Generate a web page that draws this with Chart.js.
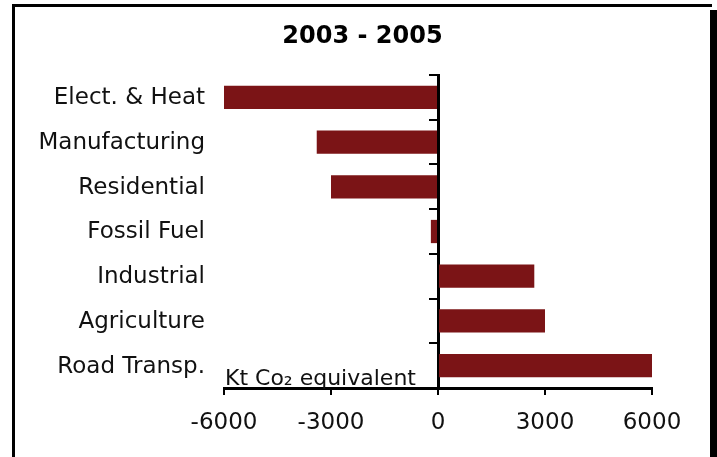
<!DOCTYPE html>
<html>
<head>
<meta charset="utf-8">
<script src="https://cdn.jsdelivr.net/npm/chart.js@4/dist/chart.umd.min.js"></script>
<style>
  html, body { margin: 0; padding: 0; background: #fff; }
  #wrap { position: relative; width: 717px; height: 457px; overflow: hidden; }
  canvas { position: absolute; left: 0; top: 0; }
  .frameA { position: absolute; left: 12px; top: 4px; width: 697px; height: 460px;
            border-top: 3px solid #000; border-left: 3px solid #000; pointer-events: none; }
  .frameB { position: absolute; left: 710px; top: 10px; width: 7px; height: 447px; background: #000; }
</style>
</head>
<body>
<div id="wrap">
  <canvas id="c" width="717" height="457"></canvas>
  <div class="frameA"></div>
  <div class="frameB"></div>
</div>
<script>
const title = '2003 - 2005';
const categories = ['Elect. & Heat', 'Manufacturing', 'Residential', 'Fossil Fuel', 'Industrial', 'Agriculture', 'Road Transp.'];
const values = [-6000, -3400, -3000, -200, 2700, 3000, 6000];
const xTicks = [-6000, -3000, 0, 3000, 6000];
const unitLabel = 'Kt Co\u2082 equivalent';

const FONT = 'DejaVu Sans';

const textPlugin = {
  id: 'extraText',
  afterDraw(chart) {
    const ctx = chart.ctx;
    const a = chart.chartArea;
    ctx.save();
    ctx.fillStyle = '#000';
    ctx.textAlign = 'center';
    ctx.textBaseline = 'alphabetic';
    ctx.font = 'bold 24px "' + FONT + '"';
    ctx.fillText(title, 362.5, 43);
    ctx.font = '22px "' + FONT + '"';
    ctx.fillStyle = '#111';
    ctx.textAlign = 'left';
    ctx.fillText(unitLabel, a.left + 1, a.bottom - 3);
    ctx.restore();
  }
};

new Chart(document.getElementById('c'), {
  type: 'bar',
  data: {
    labels: categories,
    datasets: [{
      data: values,
      backgroundColor: '#7B1416',
      borderWidth: 0,
      barPercentage: 0.52,
      categoryPercentage: 1.0,
      yAxisID: 'y'
    }]
  },
  plugins: [textPlugin],
  options: {
    indexAxis: 'y',
    responsive: false,
    animation: false,
    devicePixelRatio: 1,
    layout: { padding: { left: 0, right: 65, top: 75, bottom: 0 } },
    plugins: {
      legend: { display: false },
      tooltip: { enabled: false },
      title: { display: false }
    },
    scales: {
      x: {
        type: 'linear',
        position: 'bottom',
        min: -6000,
        max: 6000,
        afterBuildTicks: s => { s.ticks = xTicks.map(v => ({ value: v })); },
        afterFit: s => { s.height = 69; },
        ticks: {
          color: '#111',
          font: { family: FONT, size: 23 },
          padding: 14,
          maxRotation: 0,
          callback: v => String(v)
        },
        grid: { drawOnChartArea: false, drawTicks: true, tickLength: 7, color: '#000', lineWidth: 2 },
        border: { display: true, color: '#000', width: 3 }
      },
      y: {
        type: 'category',
        position: 'left',
        afterFit: s => { s.width = 224; },
        ticks: { color: '#111', font: { family: FONT, size: 23 }, padding: 19, labelOffset: 1 },
        grid: { display: false, drawTicks: false },
        border: { display: false }
      },
      y2: {
        type: 'category',
        axis: 'y',
        position: { x: 0 },
        ticks: { display: false },
        grid: { offset: true, drawOnChartArea: false, drawTicks: true, tickLength: 8, color: '#000', lineWidth: 2 },
        border: { display: true, color: '#000', width: 3 }
      }
    }
  }
});
</script>
</body>
</html>
